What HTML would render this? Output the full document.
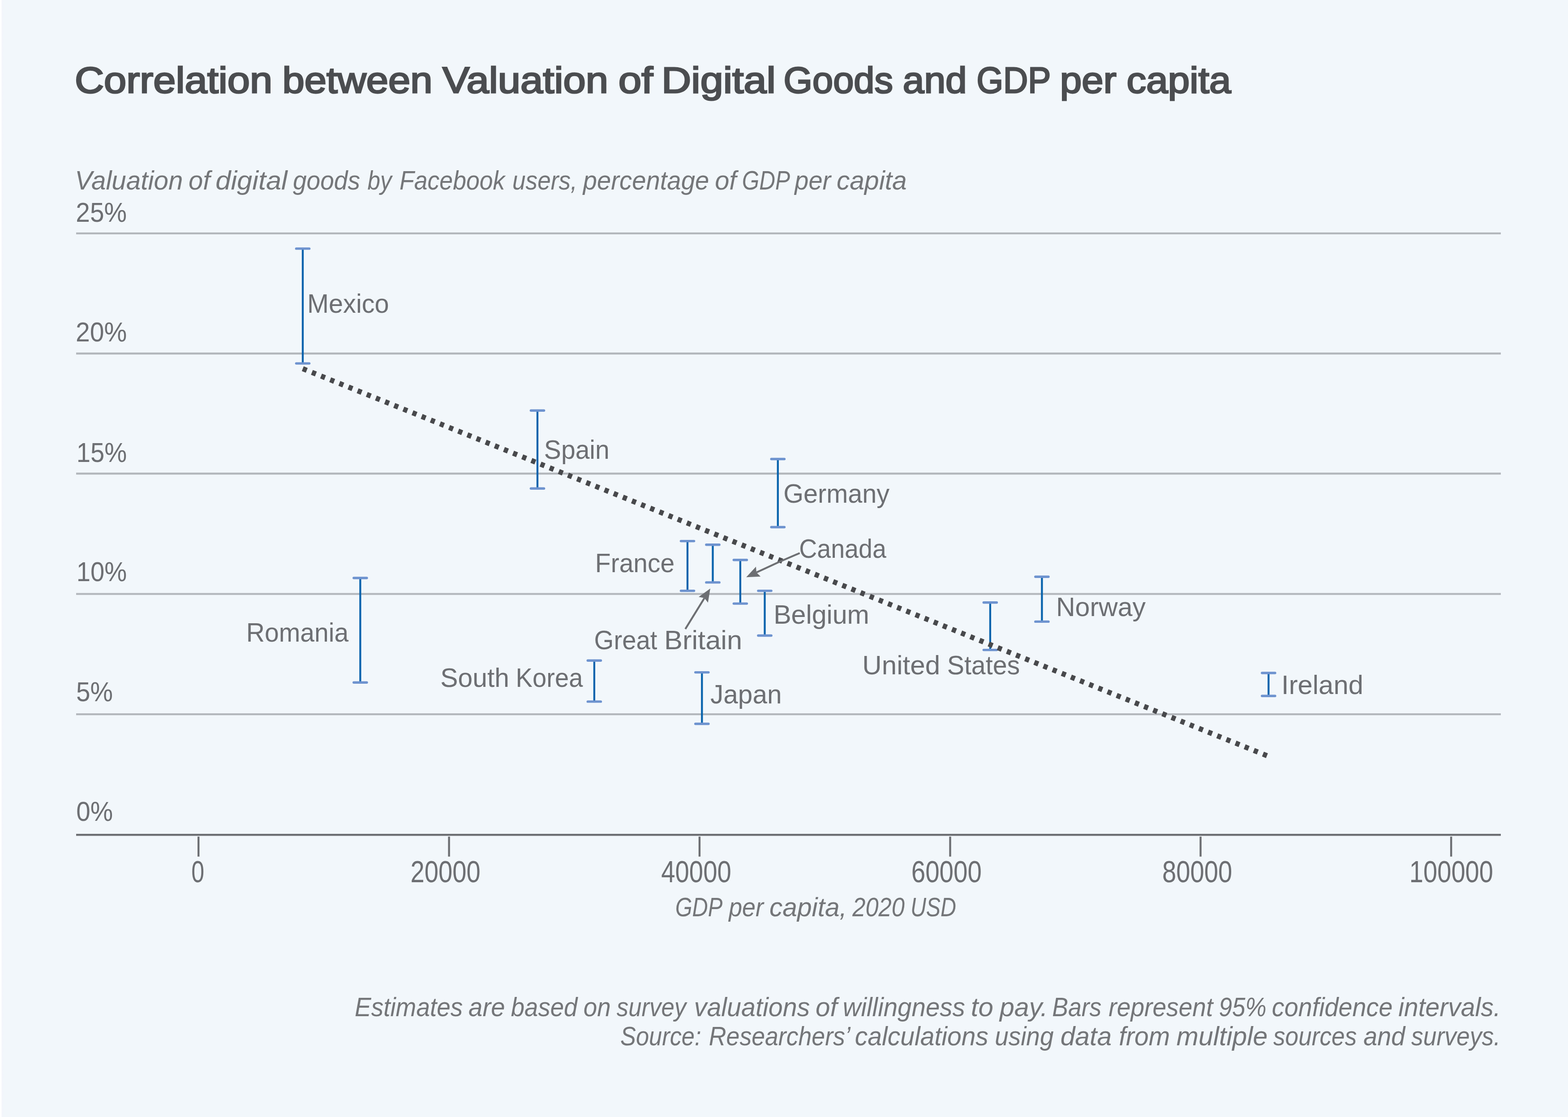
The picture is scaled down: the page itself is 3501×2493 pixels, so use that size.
<!DOCTYPE html>
<html lang="en">
<head>
<meta charset="utf-8">
<title>Correlation between Valuation of Digital Goods and GDP per capita</title>
<style>
html,body{margin:0;padding:0;background:#f2f7fb;}
body{width:3501px;height:2493px;}
svg{display:block;}
text{font-family:"Liberation Sans",sans-serif;}
</style>
</head>
<body>
<svg width="3501" height="2493" viewBox="0 0 3501 2493">
<rect x="0" y="0" width="3501" height="2493" fill="#f2f7fb"/>
<defs><linearGradient id="edge" gradientUnits="userSpaceOnUse" x1="0" y1="0" x2="8" y2="0"><stop offset="0" stop-color="#ffffff"/><stop offset="0.29" stop-color="#ffffff"/><stop offset="0.55" stop-color="#f5f6fb"/><stop offset="0.85" stop-color="#f1f5fc"/><stop offset="1" stop-color="#f2f7fb"/></linearGradient></defs>
<rect x="0" y="0" width="8" height="2493" fill="url(#edge)"/>
<g stroke="#b3b7bc" stroke-width="4.4" fill="none">
<line x1="170" y1="520.9" x2="3351" y2="520.9"/>
<line x1="170" y1="789" x2="3351" y2="789"/>
<line x1="170" y1="1057" x2="3351" y2="1057"/>
<line x1="170" y1="1325.6" x2="3351" y2="1325.6"/>
<line x1="170" y1="1594.1" x2="3351" y2="1594.1"/>
</g>
<g stroke="#6d6f73" stroke-width="4.4" fill="none">
<line x1="170" y1="1863.2" x2="3351" y2="1863.2"/>
<line x1="443.2" y1="1867.2" x2="443.2" y2="1911.8" stroke-width="4.4"/>
<line x1="1002.6" y1="1867.2" x2="1002.6" y2="1911.8" stroke-width="4.4"/>
<line x1="1561.9" y1="1867.2" x2="1561.9" y2="1911.8" stroke-width="4.4"/>
<line x1="2121.5" y1="1867.2" x2="2121.5" y2="1911.8" stroke-width="4.4"/>
<line x1="2680.6" y1="1867.2" x2="2680.6" y2="1911.8" stroke-width="4.4"/>
<line x1="3240.1" y1="1867.2" x2="3240.1" y2="1911.8" stroke-width="4.4"/>
</g>
<g fill="none">
<line x1="676" y1="554.9" x2="676" y2="811.1" stroke="#0a64ad" stroke-width="4.3"/>
<line x1="661.4" y1="554.9" x2="690.6" y2="554.9" stroke="#6e93cf" stroke-width="5.4" stroke-linecap="round"/>
<line x1="661.4" y1="811.1" x2="690.6" y2="811.1" stroke="#6e93cf" stroke-width="5.4" stroke-linecap="round"/>
<line x1="804.4" y1="1290" x2="804.4" y2="1523.2" stroke="#0a64ad" stroke-width="4.3"/>
<line x1="789.8" y1="1290" x2="819" y2="1290" stroke="#6e93cf" stroke-width="5.4" stroke-linecap="round"/>
<line x1="789.8" y1="1523.2" x2="819" y2="1523.2" stroke="#6e93cf" stroke-width="5.4" stroke-linecap="round"/>
<line x1="1200" y1="916.2" x2="1200" y2="1090.2" stroke="#0a64ad" stroke-width="4.3"/>
<line x1="1185.4" y1="916.2" x2="1214.6" y2="916.2" stroke="#6e93cf" stroke-width="5.4" stroke-linecap="round"/>
<line x1="1185.4" y1="1090.2" x2="1214.6" y2="1090.2" stroke="#6e93cf" stroke-width="5.4" stroke-linecap="round"/>
<line x1="1326.9" y1="1474.2" x2="1326.9" y2="1565.9" stroke="#0a64ad" stroke-width="4.3"/>
<line x1="1312.3" y1="1474.2" x2="1341.5" y2="1474.2" stroke="#6e93cf" stroke-width="5.4" stroke-linecap="round"/>
<line x1="1312.3" y1="1565.9" x2="1341.5" y2="1565.9" stroke="#6e93cf" stroke-width="5.4" stroke-linecap="round"/>
<line x1="1535" y1="1207.6" x2="1535" y2="1318.6" stroke="#0a64ad" stroke-width="4.3"/>
<line x1="1520.4" y1="1207.6" x2="1549.6" y2="1207.6" stroke="#6e93cf" stroke-width="5.4" stroke-linecap="round"/>
<line x1="1520.4" y1="1318.6" x2="1549.6" y2="1318.6" stroke="#6e93cf" stroke-width="5.4" stroke-linecap="round"/>
<line x1="1567.3" y1="1500.6" x2="1567.3" y2="1615.5" stroke="#0a64ad" stroke-width="4.3"/>
<line x1="1552.7" y1="1500.6" x2="1581.9" y2="1500.6" stroke="#6e93cf" stroke-width="5.4" stroke-linecap="round"/>
<line x1="1552.7" y1="1615.5" x2="1581.9" y2="1615.5" stroke="#6e93cf" stroke-width="5.4" stroke-linecap="round"/>
<line x1="1591.5" y1="1215.8" x2="1591.5" y2="1299.9" stroke="#0a64ad" stroke-width="4.3"/>
<line x1="1576.9" y1="1215.8" x2="1606.1" y2="1215.8" stroke="#6e93cf" stroke-width="5.4" stroke-linecap="round"/>
<line x1="1576.9" y1="1299.9" x2="1606.1" y2="1299.9" stroke="#6e93cf" stroke-width="5.4" stroke-linecap="round"/>
<line x1="1652.9" y1="1249.7" x2="1652.9" y2="1347.1" stroke="#0a64ad" stroke-width="4.3"/>
<line x1="1638.3" y1="1249.7" x2="1667.5" y2="1249.7" stroke="#6e93cf" stroke-width="5.4" stroke-linecap="round"/>
<line x1="1638.3" y1="1347.1" x2="1667.5" y2="1347.1" stroke="#6e93cf" stroke-width="5.4" stroke-linecap="round"/>
<line x1="1707.5" y1="1318.6" x2="1707.5" y2="1418.5" stroke="#0a64ad" stroke-width="4.3"/>
<line x1="1692.9" y1="1318.6" x2="1722.1" y2="1318.6" stroke="#6e93cf" stroke-width="5.4" stroke-linecap="round"/>
<line x1="1692.9" y1="1418.5" x2="1722.1" y2="1418.5" stroke="#6e93cf" stroke-width="5.4" stroke-linecap="round"/>
<line x1="1736.8" y1="1024.5" x2="1736.8" y2="1176.5" stroke="#0a64ad" stroke-width="4.3"/>
<line x1="1722.2" y1="1024.5" x2="1751.4" y2="1024.5" stroke="#6e93cf" stroke-width="5.4" stroke-linecap="round"/>
<line x1="1722.2" y1="1176.5" x2="1751.4" y2="1176.5" stroke="#6e93cf" stroke-width="5.4" stroke-linecap="round"/>
<line x1="2210.9" y1="1344.7" x2="2210.9" y2="1450.6" stroke="#0a64ad" stroke-width="4.3"/>
<line x1="2196.3" y1="1344.7" x2="2225.5" y2="1344.7" stroke="#6e93cf" stroke-width="5.4" stroke-linecap="round"/>
<line x1="2196.3" y1="1450.6" x2="2225.5" y2="1450.6" stroke="#6e93cf" stroke-width="5.4" stroke-linecap="round"/>
<line x1="2326.4" y1="1287.3" x2="2326.4" y2="1387.4" stroke="#0a64ad" stroke-width="4.3"/>
<line x1="2311.8" y1="1287.3" x2="2341" y2="1287.3" stroke="#6e93cf" stroke-width="5.4" stroke-linecap="round"/>
<line x1="2311.8" y1="1387.4" x2="2341" y2="1387.4" stroke="#6e93cf" stroke-width="5.4" stroke-linecap="round"/>
<line x1="2832.4" y1="1502" x2="2832.4" y2="1553.2" stroke="#0a64ad" stroke-width="4.3"/>
<line x1="2817.8" y1="1502" x2="2847" y2="1502" stroke="#6e93cf" stroke-width="5.4" stroke-linecap="round"/>
<line x1="2817.8" y1="1553.2" x2="2847" y2="1553.2" stroke="#6e93cf" stroke-width="5.4" stroke-linecap="round"/>
</g>
<line x1="676" y1="822.9" x2="2832.4" y2="1688.05" stroke="#48494c" stroke-width="11.5" stroke-dasharray="9.6 12.4" fill="none"/>
<g fill="#6d6f73" stroke="#6d6f73">
<polyline points="1785.6,1234.4 1739.2,1254.4 1688.89,1277.7" stroke-width="4.2" fill="none"/>
<path d="M1666.2 1288.2 L1687.93 1264.69 L1688.89 1277.7 L1698.19 1286.83 Z" stroke="none"/>
<polyline points="1530.2,1403.8 1572.78,1334.78" stroke-width="4.2" fill="none"/>
<path d="M1585.9 1313.5 L1580.74 1345.1 L1572.78 1334.78 L1559.98 1332.29 Z" stroke="none"/>
</g>
<text y="207.4" font-size="81.7" fill="#4b4d50" stroke="#4b4d50" stroke-width="3" stroke-linejoin="miter" stroke-miterlimit="2.5"><tspan x="166.97" textLength="441.19" lengthAdjust="spacingAndGlyphs">Correlation</tspan> <tspan x="630.56" textLength="335.01" lengthAdjust="spacingAndGlyphs">between</tspan> <tspan x="987.9" textLength="370.18" lengthAdjust="spacingAndGlyphs">Valuation</tspan> <tspan x="1380.7" textLength="77.28" lengthAdjust="spacingAndGlyphs">of</tspan> <tspan x="1477.03" textLength="254.91" lengthAdjust="spacingAndGlyphs">Digital</tspan> <tspan x="1749.61" textLength="244.28" lengthAdjust="spacingAndGlyphs">Goods</tspan> <tspan x="2015.72" textLength="142.99" lengthAdjust="spacingAndGlyphs">and</tspan> <tspan x="2180.55" textLength="164.34" lengthAdjust="spacingAndGlyphs">GDP</tspan> <tspan x="2366.85" textLength="125.97" lengthAdjust="spacingAndGlyphs">per</tspan> <tspan x="2515.57" textLength="232.87" lengthAdjust="spacingAndGlyphs">capita</tspan></text>
<text y="423" font-size="58.5" fill="#747679" font-style="italic"><tspan x="167.14" textLength="241.33" lengthAdjust="spacingAndGlyphs">Valuation</tspan> <tspan x="420.99" textLength="48.28" lengthAdjust="spacingAndGlyphs">of</tspan> <tspan x="481.28" textLength="160.51" lengthAdjust="spacingAndGlyphs">digital</tspan> <tspan x="654" textLength="149.96" lengthAdjust="spacingAndGlyphs">goods</tspan> <tspan x="820.6" textLength="54.19" lengthAdjust="spacingAndGlyphs">by</tspan> <tspan x="892.06" textLength="235.33" lengthAdjust="spacingAndGlyphs">Facebook</tspan> <tspan x="1144.04" textLength="144.8" lengthAdjust="spacingAndGlyphs">users,</tspan> <tspan x="1301.76" textLength="281.44" lengthAdjust="spacingAndGlyphs">percentage</tspan> <tspan x="1596.19" textLength="48.19" lengthAdjust="spacingAndGlyphs">of</tspan> <tspan x="1656.72" textLength="105.34" lengthAdjust="spacingAndGlyphs">GDP</tspan> <tspan x="1774.25" textLength="80.9" lengthAdjust="spacingAndGlyphs">per</tspan> <tspan x="1867.96" textLength="156.8" lengthAdjust="spacingAndGlyphs">capita</tspan></text>
<text y="495.1" font-size="60.3" fill="#6d6f73"><tspan x="169.34" textLength="113.76" lengthAdjust="spacingAndGlyphs">25%</tspan></text>
<text y="762.2" font-size="60.3" fill="#6d6f73"><tspan x="168.92" textLength="114.28" lengthAdjust="spacingAndGlyphs">20%</tspan></text>
<text y="1030.5" font-size="60.3" fill="#6d6f73"><tspan x="170.79" textLength="112.38" lengthAdjust="spacingAndGlyphs">15%</tspan></text>
<text y="1297.2" font-size="60.3" fill="#6d6f73"><tspan x="170.79" textLength="112.49" lengthAdjust="spacingAndGlyphs">10%</tspan></text>
<text y="1564.5" font-size="60.3" fill="#6d6f73"><tspan x="169.93" textLength="82.07" lengthAdjust="spacingAndGlyphs">5%</tspan></text>
<text y="1832.4" font-size="60.3" fill="#6d6f73"><tspan x="170.33" textLength="81.86" lengthAdjust="spacingAndGlyphs">0%</tspan></text>
<text y="1968.8" font-size="67.8" fill="#6d6f73"><tspan x="427.18" textLength="28.92" lengthAdjust="spacingAndGlyphs">0</tspan></text>
<text y="1968.8" font-size="67.8" fill="#6d6f73"><tspan x="916.56" textLength="156.34" lengthAdjust="spacingAndGlyphs">20000</tspan></text>
<text y="1968.8" font-size="67.8" fill="#6d6f73"><tspan x="1476.22" textLength="156.58" lengthAdjust="spacingAndGlyphs">40000</tspan></text>
<text y="1968.8" font-size="67.8" fill="#6d6f73"><tspan x="2034.75" textLength="157.16" lengthAdjust="spacingAndGlyphs">60000</tspan></text>
<text y="1968.8" font-size="67.8" fill="#6d6f73"><tspan x="2594.94" textLength="156.26" lengthAdjust="spacingAndGlyphs">80000</tspan></text>
<text y="1968.8" font-size="67.8" fill="#6d6f73"><tspan x="3146.79" textLength="187.2" lengthAdjust="spacingAndGlyphs">100000</tspan></text>
<text y="2044.8" font-size="58.5" fill="#747679" font-style="italic"><tspan x="1507.65" textLength="103.81" lengthAdjust="spacingAndGlyphs">GDP</tspan> <tspan x="1627.18" textLength="77.76" lengthAdjust="spacingAndGlyphs">per</tspan> <tspan x="1717.97" textLength="172.95" lengthAdjust="spacingAndGlyphs">capita,</tspan> <tspan x="1903.32" textLength="116.45" lengthAdjust="spacingAndGlyphs">2020</tspan> <tspan x="2032.88" textLength="102.15" lengthAdjust="spacingAndGlyphs">USD</tspan></text>
<text y="698" font-size="59" fill="#6d6f73"><tspan x="686" textLength="182.64" lengthAdjust="spacingAndGlyphs">Mexico</tspan></text>
<text y="1024" font-size="59" fill="#6d6f73"><tspan x="1214.82" textLength="145.99" lengthAdjust="spacingAndGlyphs">Spain</tspan></text>
<text y="1122" font-size="59" fill="#6d6f73"><tspan x="1749.2" textLength="237" lengthAdjust="spacingAndGlyphs">Germany</tspan></text>
<text y="1244.8" font-size="59" fill="#6d6f73"><tspan x="1784.2" textLength="194.65" lengthAdjust="spacingAndGlyphs">Canada</tspan></text>
<text y="1276.5" font-size="59" fill="#6d6f73"><tspan x="1328.85" textLength="177.36" lengthAdjust="spacingAndGlyphs">France</tspan></text>
<text y="1391.8" font-size="59" fill="#6d6f73"><tspan x="1727.18" textLength="213.68" lengthAdjust="spacingAndGlyphs">Belgium</tspan></text>
<text y="1374.9" font-size="59" fill="#6d6f73"><tspan x="2357.99" textLength="200.11" lengthAdjust="spacingAndGlyphs">Norway</tspan></text>
<text y="1432.2" font-size="59" fill="#6d6f73"><tspan x="549.74" textLength="228.6" lengthAdjust="spacingAndGlyphs">Romania</tspan></text>
<text y="1448.6" font-size="59" fill="#6d6f73"><tspan x="1326.56" textLength="140.95" lengthAdjust="spacingAndGlyphs">Great</tspan> <tspan x="1483.11" textLength="173.94" lengthAdjust="spacingAndGlyphs">Britain</tspan></text>
<text y="1504.9" font-size="59" fill="#6d6f73"><tspan x="1925.34" textLength="173.73" lengthAdjust="spacingAndGlyphs">United</tspan> <tspan x="2114.71" textLength="162.48" lengthAdjust="spacingAndGlyphs">States</tspan></text>
<text y="1532.6" font-size="59" fill="#6d6f73"><tspan x="983.26" textLength="153.74" lengthAdjust="spacingAndGlyphs">South</tspan> <tspan x="1151.61" textLength="149.83" lengthAdjust="spacingAndGlyphs">Korea</tspan></text>
<text y="1569.9" font-size="59" fill="#6d6f73"><tspan x="1586.09" textLength="159.4" lengthAdjust="spacingAndGlyphs">Japan</tspan></text>
<text y="1549.1" font-size="59" fill="#6d6f73"><tspan x="2861.03" textLength="182.93" lengthAdjust="spacingAndGlyphs">Ireland</tspan></text>
<text y="2267.5" font-size="58.5" fill="#747679" font-style="italic"><tspan x="792.04" textLength="241.22" lengthAdjust="spacingAndGlyphs">Estimates</tspan> <tspan x="1046.12" textLength="81.38" lengthAdjust="spacingAndGlyphs">are</tspan> <tspan x="1140.7" textLength="148.75" lengthAdjust="spacingAndGlyphs">based</tspan> <tspan x="1302.69" textLength="60.93" lengthAdjust="spacingAndGlyphs">on</tspan> <tspan x="1376.8" textLength="155.4" lengthAdjust="spacingAndGlyphs">survey</tspan> <tspan x="1549.71" textLength="258.59" lengthAdjust="spacingAndGlyphs">valuations</tspan> <tspan x="1820.98" textLength="48.65" lengthAdjust="spacingAndGlyphs">of</tspan> <tspan x="1881.75" textLength="273.03" lengthAdjust="spacingAndGlyphs">willingness</tspan> <tspan x="2167.82" textLength="50.07" lengthAdjust="spacingAndGlyphs">to</tspan> <tspan x="2231.95" textLength="107.44" lengthAdjust="spacingAndGlyphs">pay.</tspan> <tspan x="2349.26" textLength="110.17" lengthAdjust="spacingAndGlyphs">Bars</tspan> <tspan x="2475.34" textLength="233.05" lengthAdjust="spacingAndGlyphs">represent</tspan> <tspan x="2721.54" textLength="106.14" lengthAdjust="spacingAndGlyphs">95%</tspan> <tspan x="2839.76" textLength="269.73" lengthAdjust="spacingAndGlyphs">confidence</tspan> <tspan x="3122.21" textLength="228.43" lengthAdjust="spacingAndGlyphs">intervals.</tspan></text>
<text y="2332.8" font-size="58.5" fill="#747679" font-style="italic"><tspan x="1384.98" textLength="180.58" lengthAdjust="spacingAndGlyphs">Source:</tspan> <tspan x="1582.87" textLength="312.95" lengthAdjust="spacingAndGlyphs">Researchers’</tspan> <tspan x="1908.82" textLength="298.07" lengthAdjust="spacingAndGlyphs">calculations</tspan> <tspan x="2221.18" textLength="131.27" lengthAdjust="spacingAndGlyphs">using</tspan> <tspan x="2367.66" textLength="114.5" lengthAdjust="spacingAndGlyphs">data</tspan> <tspan x="2498.22" textLength="114.04" lengthAdjust="spacingAndGlyphs">from</tspan> <tspan x="2626.78" textLength="203.59" lengthAdjust="spacingAndGlyphs">multiple</tspan> <tspan x="2843" textLength="186.23" lengthAdjust="spacingAndGlyphs">sources</tspan> <tspan x="3044.33" textLength="93.07" lengthAdjust="spacingAndGlyphs">and</tspan> <tspan x="3151.1" textLength="199" lengthAdjust="spacingAndGlyphs">surveys.</tspan></text>
</svg>
</body>
</html>
